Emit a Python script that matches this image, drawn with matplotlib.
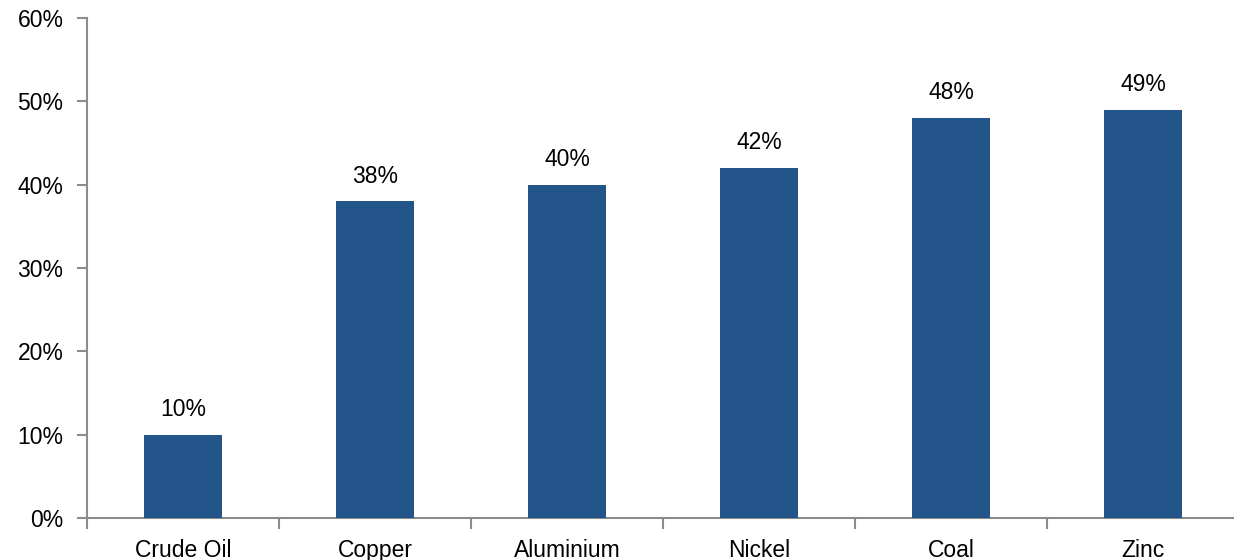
import numpy as np
import matplotlib.pyplot as plt
from matplotlib.ticker import FixedLocator, NullFormatter, FuncFormatter

plt.rcParams['font.family'] = ['Liberation Sans', 'DejaVu Sans']

categories = ['Crude Oil', 'Copper', 'Aluminium', 'Nickel', 'Coal', 'Zinc']
values = [10, 38, 40, 42, 48, 49]

bar_color = '#23548A'
axis_gray = '#8C8C8C'
fs = 16.5

fig = plt.figure(figsize=(12.34, 5.6), dpi=100)
ax = fig.add_axes([87 / 1234, 1 - 518 / 560, 1152 / 1234, 500 / 560])

x = np.arange(len(categories))
ax.bar(x, values, width=0.41, color=bar_color, zorder=3)

for xi, v in zip(x, values):
    ax.annotate(f'{v}%', (xi, v), xytext=(0, 13.5), textcoords='offset points',
                ha='center', va='baseline', fontsize=fs)

ax.set_xlim(-0.5, len(categories) - 0.5)
ax.set_ylim(0, 60)
ax.set_yticks(np.arange(0, 61, 10))
ax.yaxis.set_major_formatter(FuncFormatter(lambda v, _: f'{v:.0f}%'))

# tick marks sit between categories, labels sit under the bars
ax.xaxis.set_major_locator(FixedLocator(np.arange(-0.5, len(categories), 1.0)))
ax.xaxis.set_major_formatter(NullFormatter())
ax.xaxis.set_minor_locator(FixedLocator(x))
ax.set_xticklabels(categories, minor=True)

ax.tick_params(axis='y', direction='out', length=7, width=1.5, color=axis_gray,
               labelsize=fs, pad=10)
ax.tick_params(axis='x', which='major', direction='out', length=8, width=1.5,
               color=axis_gray)
ax.tick_params(axis='x', which='minor', length=0, labelsize=fs, pad=15)

for side in ('top', 'right'):
    ax.spines[side].set_visible(False)
for side in ('left', 'bottom'):
    ax.spines[side].set_color(axis_gray)
    ax.spines[side].set_linewidth(1.5)

fig.savefig('out.png', dpi=100)
